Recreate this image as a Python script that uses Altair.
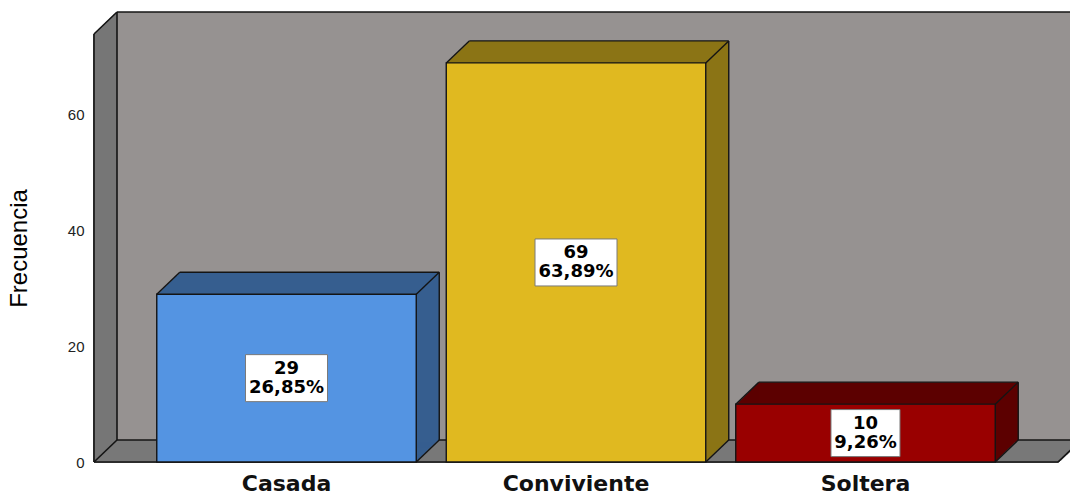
import altair as alt
import pandas as pd

# ---- data ----
categories = ["Casada", "Conviviente", "Soltera"]
counts = [29, 69, 10]
percent_labels = ["26,85%", "63,89%", "9,26%"]
y_ticks = [0, 20, 40, 60]

# ---- styles ----
front_colors = ["#5494e2", "#e0b920", "#990000"]
side_colors = ["#365e8f", "#8b7415", "#5c0000"]
WALL = "#969291"
SIDE_WALL = "#767676"
FLOOR = "#787878"
EDGE = "#141414"

W, H = 964, 428          # plot area (front frame)
DX, DY = 23, 22          # 3D depth in pixels
Y_MAX = 74.0

df = pd.DataFrame({"cat": categories, "count": counts, "pct": percent_labels})
df["label"] = [f"{c}\n{p}" for c, p in zip(counts, percent_labels)]
one = pd.DataFrame({"a": [0]})

x_scale = alt.Scale(domain=categories, paddingInner=0.1036, paddingOuter=0.2168)
y_scale = alt.Scale(domain=[0, Y_MAX], nice=False, zero=True)

AX = alt.Axis(title=None, labelAngle=0, labelFont="DejaVu Sans", labelFontWeight="bold",
              labelFontSize=22, labelColor="#111111", ticks=False, domain=False,
              labelPadding=11, grid=False)
AY = alt.Axis(title="Frecuencia", values=y_ticks, grid=False, ticks=False, domain=False,
              labelFont="Liberation Sans", labelFontSize=15, labelColor="#222222",
              labelPadding=10, titleFont="Liberation Sans Narrow, Liberation Sans", titleFontSize=24,
              titleFontWeight="normal", titleColor="#000000", titlePadding=36)


def vrule(x, y, x2=None, y2=None, color=EDGE, sw=1.6):
    enc = dict(x=alt.value(x), y=alt.value(y))
    if x2 is not None:
        enc["x2"] = alt.value(x2)
    if y2 is not None:
        enc["y2"] = alt.value(y2)
    return alt.Chart(one).mark_rule(color=color, strokeWidth=sw).encode(**enc)


layers = []
# back wall
layers.append(
    alt.Chart(one).mark_rect(fill=WALL, strokeWidth=0).encode(
        x=alt.value(DX), x2=alt.value(W + DX + 40),
        y=alt.value(-DY), y2=alt.value(H - DY))
)
# floor and left wall (stacked thin rules)
for k in range(DX):
    d = k * DY / DX
    layers.append(vrule(k, H - d, x2=W + k + 1, color=FLOOR, sw=2))
for k in range(DX):
    d = k * DY / DX
    layers.append(vrule(k, -d, y2=H - d, color=SIDE_WALL, sw=2))

# frame edges
layers += [
    vrule(0, 0, y2=H),                     # left wall front edge
    vrule(0, 0, x2=DX, y2=-DY),            # top-left diagonal
    vrule(0, H, x2=DX, y2=H - DY),         # bottom-left diagonal
    vrule(0, H, x2=W),                     # floor front edge
    vrule(W, H, x2=W + DX, y2=H - DY),     # floor right diagonal
    vrule(DX, -DY, x2=W + DX + 40),        # back wall top
    vrule(DX, -DY, y2=H - DY),             # back wall left
    vrule(DX, H - DY, x2=W + DX + 40),     # back wall bottom
]

base = alt.Chart(df)


def X(bp=None):
    kw = {} if bp is None else {"bandPosition": bp}
    return alt.X("cat:N", scale=x_scale, axis=AX, **kw)


Yv = alt.Y("count:Q", scale=y_scale, axis=AY)

# extrusion (top + side faces)
for k in range(1, DX + 1):
    d = k * DY / DX
    layers.append(
        base.mark_bar(xOffset=k, x2Offset=k, yOffset=-d, y2Offset=-d).encode(
            x=X(), y=Yv,
            color=alt.Color("cat:N", scale=alt.Scale(domain=categories, range=side_colors), legend=None),
        )
    )

# front faces
layers.append(
    base.mark_bar(stroke=EDGE, strokeWidth=1.4).encode(
        x=X(), y=Yv,
        fill=alt.Fill("cat:N", scale=alt.Scale(domain=categories, range=front_colors), legend=None),
    )
)

# bar edges
edge_kw = dict(color=EDGE, strokeWidth=1.4)
zero_y = alt.Y(datum=0, scale=y_scale, axis=AY)
layers += [
    base.mark_rule(x2Offset=DX, y2Offset=-DY, **edge_kw).encode(
        x=X(0), x2=alt.X2("cat:N", bandPosition=0), y=Yv, y2=alt.Y2("count:Q")),
    base.mark_rule(x2Offset=DX, y2Offset=-DY, **edge_kw).encode(
        x=X(1), x2=alt.X2("cat:N", bandPosition=1), y=Yv, y2=alt.Y2("count:Q")),
    base.mark_rule(x2Offset=DX, y2Offset=-DY, **edge_kw).encode(
        x=X(1), x2=alt.X2("cat:N", bandPosition=1), y=zero_y, y2=alt.Y2(datum=0)),
    base.mark_rule(xOffset=DX, x2Offset=DX, yOffset=-DY, y2Offset=-DY, **edge_kw).encode(
        x=X(0), x2=alt.X2("cat:N", bandPosition=1), y=Yv, y2=alt.Y2("count:Q")),
    base.mark_rule(xOffset=DX, yOffset=-DY, y2Offset=-DY, **edge_kw).encode(
        x=X(1), y=Yv, y2=alt.Y2(datum=0)),
]

# label boxes
for cat, pct in zip(categories, percent_labels):
    w = 13 * len(pct) + 4
    layers.append(
        base.transform_filter(alt.datum.cat == cat)
        .transform_calculate(mid="datum.count / 2")
        .mark_bar(width=w, fill="white", stroke="#7a7a7a", strokeWidth=1, yOffset=-23.5, y2Offset=23.5)
        .encode(x=X(), y=alt.Y("mid:Q", scale=y_scale, axis=AY), y2=alt.Y2("mid"))
    )

layers.append(
    base.transform_calculate(mid="datum.count / 2")
    .mark_text(font="DejaVu Sans", fontWeight="bold", fontSize=18, lineHeight=19, dy=-9,
               lineBreak="\n", align="center", baseline="middle", color="#000000")
    .encode(x=X(), y=alt.Y("mid:Q", scale=y_scale, axis=AY), text="label:N")
)

chart = (
    alt.layer(*layers)
    .properties(
        width=W, height=H,
        padding={"left": 94, "top": 34, "right": 12, "bottom": 33},
        autosize=alt.AutoSizeParams(type="none"),
        background="white",
    )
    .configure_view(stroke=None)
)

chart.save("out.html", embed_options={"renderer": "svg", "actions": False})
